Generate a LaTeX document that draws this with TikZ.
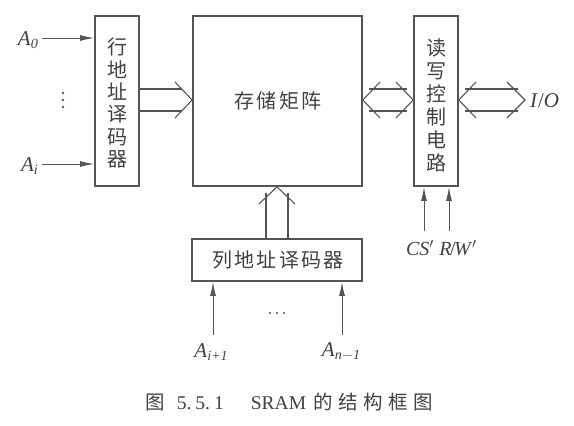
\documentclass[tikz,border=0pt]{standalone}
\usepackage{fontspec}
\setmainfont{Liberation Serif}
\newfontfamily\cjk{Noto Sans CJK SC}
\usetikzlibrary{arrows.meta,calc}
\definecolor{ln}{RGB}{85,85,85}
\definecolor{tx}{RGB}{65,65,65}
\newcommand{\lab}[2]{\textit{#1}\raisebox{-0.3ex}{\fontsize{14}{14}\selectfont\textit{#2}}}
\newcommand{\ks}{\kern2.4pt}
\newcommand{\kc}{\kern5.5pt}
\begin{document}
\begin{tikzpicture}[x=1pt,y=-1pt,
  box/.style={draw=ln,line width=1.8pt,inner sep=0pt},
  cjktext/.style={text=tx,font=\cjk\fontsize{20}{22.4}\selectfont},
  lbl/.style={text=tx,font=\fontsize{21}{22}\selectfont,inner sep=0pt},
  ctl/.style={text=tx,font=\fontsize{20}{21}\selectfont,inner sep=0pt},
  sig/.style={draw=ln,line width=1pt,-{Latex[length=14pt,width=6pt]}},
  wide/.style={draw=ln,line width=1.1pt},
]
\useasboundingbox (0,0) rectangle (574,426);
% boxes
\node[box,minimum width=44pt,minimum height=170pt] (row) at (117,101) {};
\node[cjktext,align=center] at (117,103) {行\\地\\址\\译\\码\\器};
\node[box,minimum width=169pt,minimum height=170pt] (mat) at (277.5,101) {};
\node[cjktext] at (278,101) {存\ks 储\ks 矩\ks 阵};
\node[box,minimum width=44pt,minimum height=170pt] (rw) at (436,101) {};
\node[cjktext,align=center,font=\cjk\fontsize{20}{23}\selectfont] at (436,105) {读\\写\\控\\制\\电\\路};
\node[box,minimum width=170pt,minimum height=42pt] (col) at (277,260) {};
\node[cjktext] at (278,260) {列\ks 地\ks 址\ks 译\ks 码\ks 器};
% inputs to row decoder
\coordinate (a0s) at (42,38);
\coordinate (ais) at (42,164);
\node[lbl,anchor=east] (a0) at (38,40) {\lab{A}{0}};
\node[lbl,anchor=east] (ai) at (38,166) {\lab{A}{i}};
\draw[sig] (a0s) -- (a0s -| row.west);
\draw[sig] (ais) -- (ais -| row.west);
\foreach \yy in {93,100,107} \fill[ln] (63,\yy) circle (1.3pt);
% wide arrow row -> mat
\draw[wide] (row.east |- 0,89) -- (182,89) (row.east |- 0,111) -- (182,111);
\draw[wide] (175,82) -- (mat.west |- 0,100) -- (175,118);
% wide arrow mat <-> rw
\draw[wide] (369,89) -- (407,89) (369,111) -- (407,111);
\draw[wide] (380,82) -- (mat.east |- 0,100) -- (380,118);
\draw[wide] (396,82) -- (rw.west |- 0,100) -- (396,118);
% wide arrow rw <-> I/O
\coordinate (iotip) at (525,100);
\draw[wide] (465,89) -- (518,89) (465,111) -- (518,111);
\draw[wide] (476,82) -- (rw.east |- 0,100) -- (476,118);
\draw[wide] (507,82) -- (iotip) -- (507,118);
\node[lbl,anchor=west] (io) at (530,101) {\textit{I}/\textit{O}};
% wide arrow col -> mat
\draw[wide] (col.north -| 266,0) -- (266,193) (col.north -| 288,0) -- (288,193);
\draw[wide] (259,204) -- (mat.south -| 277,0) -- (295,204);
% control signals
\coordinate (css) at (424,231);
\coordinate (rws) at (449,231);
\draw[sig] (css) -- (css |- rw.south);
\draw[sig] (rws) -- (rws |- rw.south);
\node[ctl] (cs) at (420,248) {\textit{CS}$'$};
\node[ctl] (rwl) at (458,248) {\textit{R}\kern-1.5pt/\kern-1.5pt\textit{W}$'$};
% column inputs
\coordinate (c1s) at (213,335);
\coordinate (c2s) at (342,335);
\draw[sig] (c1s) -- (c1s |- col.south);
\draw[sig] (c2s) -- (c2s |- col.south);
\node[lbl] (c1) at (211,352) {\lab{A}{i+1}};
\node[lbl] (c2) at (341,352) {\lab{A}{n$-$1}};
\foreach \xx in {270,277,284} \fill[ln] (\xx,313) circle (1.1pt);
% caption
\node[text=tx,font=\fontsize{19.5}{21}\selectfont] (cap) at (289,402) {{\cjk 图}\hspace{12pt}5.\hspace{4pt}5.\hspace{4pt}1\hspace{27pt}SRAM\hspace{7pt}{\cjk 的\kc 结\kc 构\kc 框\kc 图}};
\end{tikzpicture}
\end{document}
